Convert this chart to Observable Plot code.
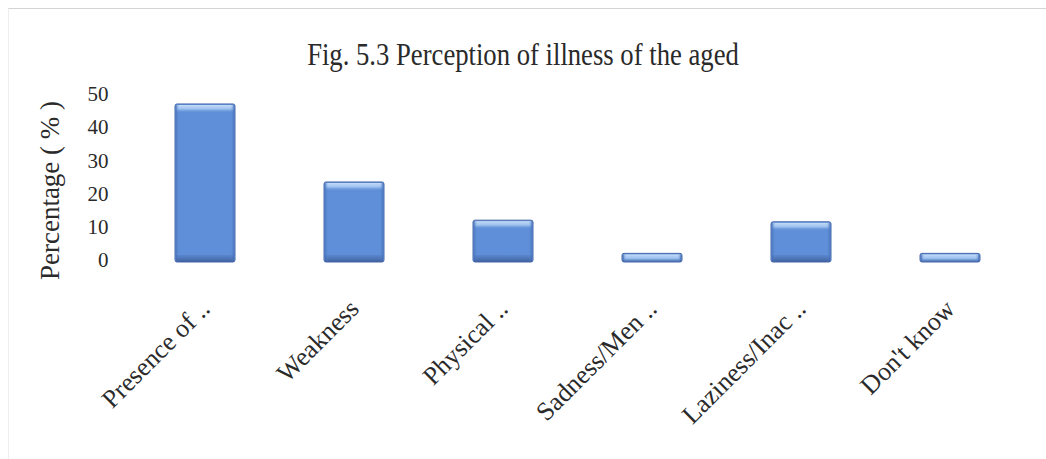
<!DOCTYPE html>
<html>
<head>
<meta charset="utf-8">
<script src="https://cdn.jsdelivr.net/npm/d3@7"></script>
<script src="https://cdn.jsdelivr.net/npm/@observablehq/plot@0.6"></script>
<style>
  html, body { margin: 0; padding: 0; background: #fff; }
  #frame {
    position: relative;
    width: 1046px;
    height: 459px;
    overflow: hidden;
    font-family: "Liberation Serif", "Times New Roman", serif;
    color: #2a2a2a;
  }
  #edge {
    position: absolute;
    left: 8px; top: 8px; right: 0; bottom: 0;
    border-top: 1px solid #d4d4d4;
    border-left: 1px solid #eeeeee;
    pointer-events: none;
  }
  #title {
    height: 75px;
    box-sizing: border-box;
    padding-top: 38px;
    text-align: center;
    font-size: 31px;
    line-height: 34px;
  }
  #title span { display: inline-block; transform: scaleX(0.86); transform-origin: 50% 50%; }
  #chart svg { display: block; overflow: visible; }
</style>
</head>
<body>
<div id="frame">
  <div id="edge"></div>
  <div id="title"><span>Fig. 5.3 Perception of illness of the aged</span></div>
  <div id="chart"></div>
</div>
<script>
// Perception of illness among the aged, share of respondents (%)
const categories = ["Presence of ..", "Weakness", "Physical ..", "Sadness/Men ..", "Laziness/Inac ..", "Don't know"];
const percentages = [47, 23.5, 12, 2, 11.5, 2];
const yTicks = [0, 10, 20, 30, 40, 50];
const yLabel = "Percentage ( % )";

const rows = categories.map((category, i) => ({category, value: percentages[i]}));

const serif = "'Liberation Serif', 'Times New Roman', serif";

const chart = Plot.plot({
  width: 1046,
  height: 384,
  marginTop: 19,
  marginBottom: 199,
  marginLeft: 120,
  marginRight: 12,
  style: {fontFamily: serif, color: "#2a2a2a", background: "transparent"},
  x: {domain: categories, paddingInner: 0.6, paddingOuter: 0.35},
  y: {domain: [0, 50]},
  marks: [
    // main body of each bar
    Plot.barY(rows, {x: "category", y: "value", fill: "#5f8fd8", stroke: "#4768ab", strokeWidth: 1, insetBottom: -2, rx: 2}),
    // darker base band
    Plot.barY(rows, {x: "category", y1: 0, y2: 0, insetTop: -5, insetBottom: -2, insetLeft: 1, insetRight: 1, fill: "url(#barBase)"}),
    // lighter bevel along the top edge
    Plot.barY(rows, {x: "category", y1: "value", y2: "value", insetTop: 1, insetBottom: -9, insetLeft: 1.5, insetRight: 1.5, fill: "url(#barTop)"}),
    // soft side shading
    Plot.barY(rows, {x: "category", y: "value", insetBottom: -2, insetTop: 1, insetLeft: 1, insetRight: 1, fill: "url(#barSides)"}),
    Plot.axisY({ticks: yTicks, tickSize: 0, tickPadding: 12, fontSize: 21, label: null}),
    Plot.axisX({tickSize: 0, tickRotate: -45, tickPadding: 44, dx: 0, fontSize: 26, label: null}),
    Plot.text([yLabel], {frameAnchor: "left", textAnchor: "middle", rotate: -90, dx: -70, dy: 13, fontSize: 27, fill: "#2a2a2a"})
  ]
});

// gradients used by the bar layers
const defs = d3.select(chart).insert("defs", ":first-child");
const topGrad = defs.append("linearGradient").attr("id", "barTop").attr("x1", 0).attr("y1", 0).attr("x2", 0).attr("y2", 1);
topGrad.append("stop").attr("offset", "0%").attr("stop-color", "#c3dbf7");
topGrad.append("stop").attr("offset", "50%").attr("stop-color", "#9dc1ef");
topGrad.append("stop").attr("offset", "100%").attr("stop-color", "#5f8fd8").attr("stop-opacity", 0);
const baseGrad = defs.append("linearGradient").attr("id", "barBase").attr("x1", 0).attr("y1", 0).attr("x2", 0).attr("y2", 1);
baseGrad.append("stop").attr("offset", "0%").attr("stop-color", "#4b6fb2").attr("stop-opacity", 0.3);
baseGrad.append("stop").attr("offset", "100%").attr("stop-color", "#40609e");
const sideGrad = defs.append("linearGradient").attr("id", "barSides").attr("x1", 0).attr("y1", 0).attr("x2", 1).attr("y2", 0);
sideGrad.append("stop").attr("offset", "0%").attr("stop-color", "#3f64a8").attr("stop-opacity", 0.55);
sideGrad.append("stop").attr("offset", "6%").attr("stop-color", "#5f8fd8").attr("stop-opacity", 0);
sideGrad.append("stop").attr("offset", "94%").attr("stop-color", "#5f8fd8").attr("stop-opacity", 0);
sideGrad.append("stop").attr("offset", "100%").attr("stop-color", "#3f64a8").attr("stop-opacity", 0.55);

document.getElementById("chart").appendChild(chart);
</script>
</body>
</html>
